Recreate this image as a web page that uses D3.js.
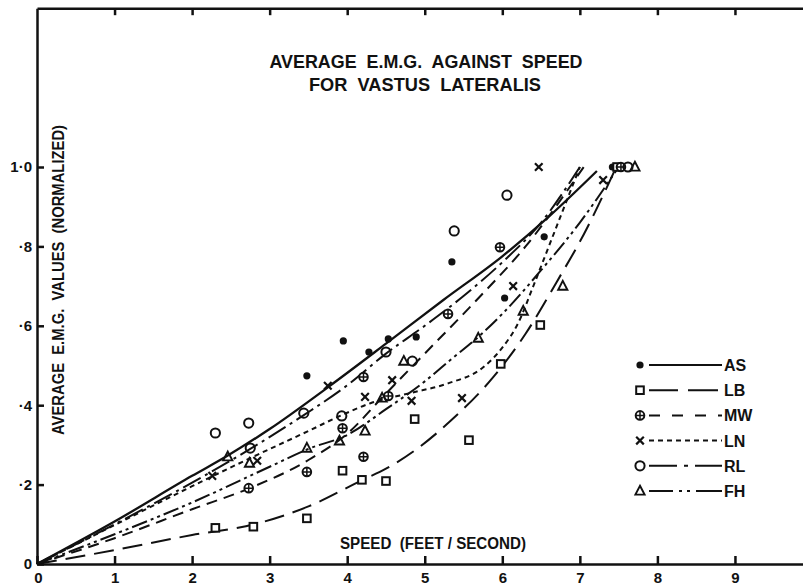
<!DOCTYPE html>
<html>
<head>
<meta charset="utf-8">
<script src="https://cdn.jsdelivr.net/npm/d3@7"></script>
<style>
  body { margin: 0; background: #fff; }
  svg { display: block; }
  text { font-family: "Liberation Sans", Arial, sans-serif; font-weight: bold; fill: #111; white-space: pre; }
</style>
</head>
<body>
<div id="chart-area"></div>
<script>
/*
*    vastus lateralis EMG vs speed
*/

var seriesNames = ["AS", "LB", "MW", "LN", "RL", "FH"];
var xTicks = [0, 1, 2, 3, 4, 5, 6, 7, 8, 9];
var yTicks = [0, 0.2, 0.4, 0.6, 0.8, 1.0];
var yTickLabels = ["0", "\u00b72", "\u00b74", "\u00b76", "\u00b78", "1\u00b70"];

// measured points [speed, EMG]
var asPoints = [[3.48,0.474],[3.95,0.562],[4.28,0.534],[4.53,0.567],[4.89,0.572],[5.35,0.761],[6.03,0.67],[6.54,0.824],[7.42,1.0]];
var lbPoints = [[2.30,0.091],[2.79,0.094],[3.48,0.115],[3.94,0.235],[4.19,0.212],[4.50,0.209],[4.87,0.365],[5.57,0.312],[5.98,0.504],[6.49,0.602],[7.48,1.0]];
var mwPoints = [[2.73,0.191],[3.48,0.232],[3.94,0.342],[4.21,0.270],[4.21,0.471],[4.53,0.423],[5.30,0.630],[5.97,0.798],[7.53,1.0]];
var lnPoints = [[2.26,0.222],[2.84,0.26],[3.75,0.449],[4.23,0.421],[4.58,0.463],[4.83,0.411],[5.48,0.418],[6.14,0.70],[6.47,1.0],[7.30,0.967]];
var rlPoints = [[2.30,0.33],[2.73,0.355],[2.75,0.292],[3.44,0.38],[3.93,0.373],[4.50,0.534],[4.84,0.511],[5.38,0.839],[6.06,0.929],[7.62,1.0]];
var fhPoints = [[2.46,0.27],[2.74,0.254],[3.48,0.292],[3.90,0.31],[4.23,0.335],[4.45,0.418],[4.73,0.511],[5.69,0.569],[6.27,0.637],[6.78,0.70],[7.71,1.0]];

// fitted curves
var asCurve = [[0,0],[1,0.107],[2,0.222],[2.45,0.272],[3,0.34],[3.75,0.445],[4.5,0.555],[5.24,0.665],[6,0.775],[6.6,0.875],[7.22,0.99]];
var lbCurve = [[0,0],[1,0.035],[2,0.073],[2.8,0.1],[3.5,0.145],[4.2,0.212],[4.5,0.24],[4.9,0.29],[5.33,0.36],[5.88,0.47],[6.3,0.58],[6.7,0.71],[7.05,0.83],[7.47,1.0]];
var mwCurve = [[0,0],[1,0.065],[2,0.138],[2.73,0.19],[3.5,0.262],[4.04,0.335],[4.42,0.413],[5,0.53],[5.67,0.665],[6.3,0.8],[7.05,1.0]];
var lnCurve = [[0,0],[1,0.098],[2,0.196],[2.84,0.275],[3.5,0.335],[3.93,0.375],[4.3,0.405],[4.8,0.43],[5.3,0.455],[5.75,0.495],[6.0,0.545],[6.2,0.605],[6.4,0.7],[6.6,0.8],[6.8,0.9],[7.0,1.0]];
var rlCurve = [[0,0],[1,0.1],[2,0.205],[2.75,0.29],[3.44,0.375],[4,0.45],[4.5,0.53],[5,0.6],[5.5,0.675],[6,0.76],[6.5,0.86],[7,1.0]];
var fhCurve = [[0,0],[1,0.075],[2,0.155],[3,0.245],[3.5,0.29],[4,0.325],[4.5,0.39],[5,0.46],[5.33,0.514],[5.69,0.572],[6,0.63],[6.5,0.74],[7,0.86],[7.5,1.0]];

var series = [
    { name: "AS", points: asPoints, curve: asCurve, dash: null,              legendDash: null,                     marker: "dot" },
    { name: "LB", points: lbPoints, curve: lbCurve, dash: "20,9",            legendDash: "29,10,30",               marker: "square" },
    { name: "MW", points: mwPoints, curve: mwCurve, dash: "11,7",            legendDash: "11,12",                  marker: "oplus" },
    { name: "LN", points: lnPoints, curve: lnCurve, dash: "5,4",             legendDash: "5,4",                    marker: "cross" },
    { name: "RL", points: rlPoints, curve: rlCurve, dash: "20,5,3,5",        legendDash: "28,7,4,7,30",            marker: "circle" },
    { name: "FH", points: fhPoints, curve: fhCurve, dash: "16,4,3,4,3,4",    legendDash: "24,6,3,5,3,6,30",        marker: "triangle" }
];

var W = 803, H = 586;

var svg = d3.select("#chart-area")
  .append("svg")
    .attr("width", W)
    .attr("height", H);

var x = d3.scaleLinear()
    .domain([0, 10])
    .range([37, 812.5]);

var y = d3.scaleLinear()
    .domain([0, 1.4])
    .range([564, 8.2]);

var ink = "#111";

// bottom axis
var bottomAxis = d3.axisBottom(x)
    .tickValues(xTicks)
    .tickSizeInner(-8)
    .tickSizeOuter(0)
    .tickPadding(8)
    .tickFormat(d3.format("d"));
var gx = svg.append("g")
    .attr("class", "bottom axis")
    .attr("transform", "translate(0," + y(0) + ")")
    .call(bottomAxis);
gx.selectAll("text").attr("font-size", "15px").attr("font-family", null);

// top border with ticks
var topAxis = d3.axisTop(x)
    .tickValues(xTicks.slice(1))
    .tickSizeInner(-7)
    .tickSizeOuter(0)
    .tickFormat("");
svg.append("g")
    .attr("class", "top axis")
    .attr("transform", "translate(0," + y(1.4) + ")")
    .call(topAxis);

// left axis
var leftAxis = d3.axisLeft(y)
    .tickValues(yTicks)
    .tickSizeInner(-7)
    .tickSizeOuter(0)
    .tickPadding(5)
    .tickFormat((d, i) => yTickLabels[i]);
var gy = svg.append("g")
    .attr("class", "left axis")
    .attr("transform", "translate(" + x(0) + ",0)")
    .call(leftAxis);
gy.selectAll("text").attr("font-size", "15px").attr("font-family", null);
gx.select(".tick text").attr("dx", "1");

svg.selectAll(".axis path, .axis line")
    .attr("stroke", ink)
    .attr("stroke-width", 2.5);
svg.selectAll(".axis text").attr("fill", ink);

// curves
var line = d3.line()
    .x((d) => x(d[0]))
    .y((d) => y(d[1]))
    .curve(d3.curveMonotoneX);

svg.append("g").selectAll("path.fit")
    .data(series)
  .enter().append("path")
    .attr("class", "fit")
    .attr("d", (d) => line(d.curve))
    .attr("fill", "none")
    .attr("stroke", ink)
    .attr("stroke-width", (d) => d.dash ? 2 : 2.3)
    .attr("stroke-dasharray", (d) => d.dash);

// markers
function drawMarker(g, type) {
    if (type === "dot") {
        g.append("circle").attr("r", 3.6).attr("fill", ink);
    } else if (type === "square") {
        g.append("rect").attr("x", -3.8).attr("y", -3.8).attr("width", 7.6).attr("height", 7.6)
            .attr("fill", "#fff").attr("stroke", ink).attr("stroke-width", 2);
    } else if (type === "oplus") {
        g.append("circle").attr("r", 4.3).attr("fill", "#fff").attr("stroke", ink).attr("stroke-width", 2);
        g.append("path").attr("d", "M-4,0H4M0,-4V4").attr("stroke", ink).attr("stroke-width", 1.5);
    } else if (type === "cross") {
        g.append("path").attr("d", "M-3.8,-3.8L3.8,3.8M-3.8,3.8L3.8,-3.8")
            .attr("stroke", ink).attr("stroke-width", 2.2);
    } else if (type === "circle") {
        g.append("circle").attr("r", 4.6).attr("fill", "none").attr("stroke", ink).attr("stroke-width", 2);
    } else if (type === "triangle") {
        g.append("path").attr("d", "M0,-5.2L4.6,3.6L-4.6,3.6Z")
            .attr("fill", "none").attr("stroke", ink).attr("stroke-width", 1.9).attr("stroke-linejoin", "miter");
    }
}

series.forEach((s) => {
    svg.append("g").attr("class", "pts " + s.name)
        .selectAll("g")
        .data(s.points)
      .enter().append("g")
        .attr("transform", (d) => "translate(" + x(d[0]) + "," + y(d[1]) + ")")
        .each(function () { drawMarker(d3.select(this), s.marker); });
});

// legend
var legendY = d3.scaleLinear().domain([0, 5]).range([365, 491]);
var legend = svg.append("g").attr("class", "legend");
series.forEach((s, i) => {
    var row = legend.append("g").attr("transform", "translate(0," + legendY(i) + ")");
    var m = row.append("g").attr("transform", "translate(640,0)");
    drawMarker(m, s.marker);
    row.append("line")
        .attr("x1", 649).attr("x2", 722)
        .attr("y1", 0).attr("y2", 0)
        .attr("stroke", ink)
        .attr("stroke-width", 2)
        .attr("stroke-dasharray", s.legendDash);
    row.append("text")
        .attr("x", 724)
        .attr("y", 6)
        .attr("font-size", "16px")
        .text(s.name);
});

// titles
svg.append("text")
    .attr("x", 426)
    .attr("y", 68)
    .attr("text-anchor", "middle")
    .attr("font-size", "19px")
    .attr("textLength", 313)
    .attr("lengthAdjust", "spacingAndGlyphs")
    .text("AVERAGE  E.M.G.  AGAINST  SPEED");

svg.append("text")
    .attr("x", 425)
    .attr("y", 91)
    .attr("text-anchor", "middle")
    .attr("font-size", "19px")
    .attr("textLength", 232)
    .attr("lengthAdjust", "spacingAndGlyphs")
    .text("FOR  VASTUS  LATERALIS");

svg.append("text")
    .attr("class", "x axis-label")
    .attr("x", 433)
    .attr("y", 549)
    .attr("text-anchor", "middle")
    .attr("font-size", "16px")
    .attr("textLength", 186)
    .attr("lengthAdjust", "spacingAndGlyphs")
    .text("SPEED  (FEET / SECOND)");

svg.append("text")
    .attr("class", "y axis-label")
    .attr("x", -280)
    .attr("y", 64)
    .attr("text-anchor", "middle")
    .attr("font-size", "16px")
    .attr("textLength", 310)
    .attr("lengthAdjust", "spacingAndGlyphs")
    .attr("transform", "rotate(-90)")
    .text("AVERAGE  E.M.G.  VALUES  (NORMALIZED)");
</script>
</body>
</html>
